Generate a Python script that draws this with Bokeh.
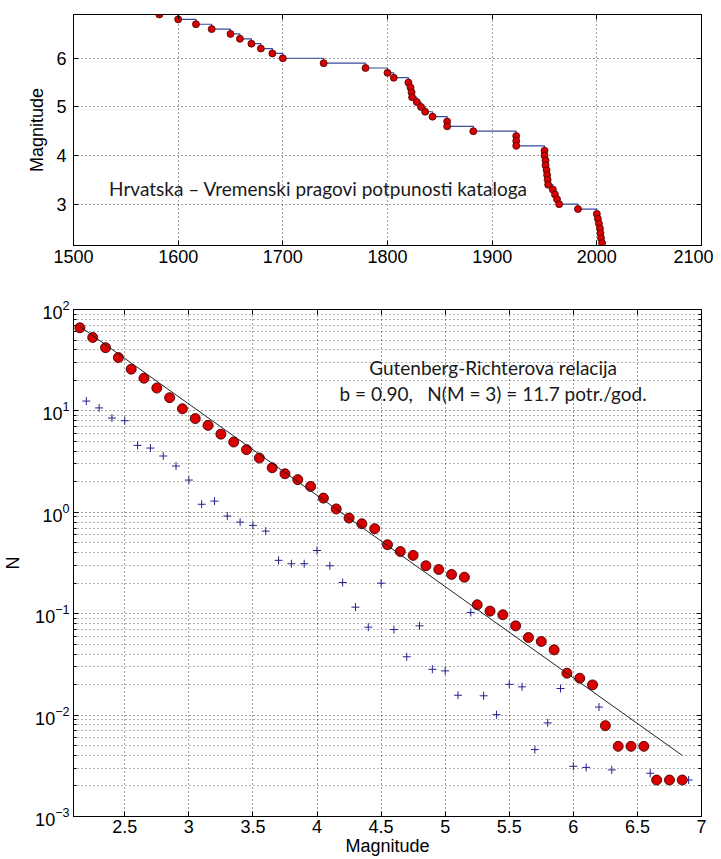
from bokeh.plotting import figure
from bokeh.layouts import column
from bokeh.models import (FixedTicker, LinearAxis, LogAxis, Label, Range1d,
                          CustomJSTickFormatter)
from bokeh.embed import file_html
from bokeh.resources import INLINE

# ---------------- data: completeness thresholds (top) ----------------
comp_years = [1582, 1600, 1617, 1632, 1650, 1659, 1670, 1679, 1690, 1700,
              1739, 1779, 1800, 1806, 1820, 1822, 1823, 1823.5, 1828, 1832,
              1836, 1843, 1857, 1857, 1882, 1923, 1923, 1923, 1950, 1950,
              1951, 1951, 1952, 1952.5, 1953, 1953.5, 1958, 1960, 1962, 1964,
              1982, 2000, 2001, 2002, 2003, 2003.5, 2004, 2005]
comp_mags = [6.9, 6.8, 6.7, 6.6, 6.5, 6.4, 6.3, 6.2, 6.1, 6.0,
             5.9, 5.8, 5.7, 5.6, 5.5, 5.4, 5.3, 5.2, 5.1, 5.0,
             4.9, 4.8, 4.7, 4.6, 4.5, 4.4, 4.3, 4.2, 4.1, 4.0,
             3.9, 3.8, 3.7, 3.6, 3.5, 3.4, 3.3, 3.2, 3.1, 3.0,
             2.9, 2.8, 2.7, 2.6, 2.5, 2.4, 2.3, 2.2]

# ---------------- data: Gutenberg-Richter (bottom) ----------------
cum_mag = [2.15, 2.25, 2.35, 2.45, 2.55, 2.65, 2.75, 2.85, 2.95, 3.05,
           3.15, 3.25, 3.35, 3.45, 3.55, 3.65, 3.75, 3.85, 3.95, 4.05,
           4.15, 4.25, 4.35, 4.45, 4.55, 4.65, 4.75, 4.85, 4.95, 5.05,
           5.15, 5.25, 5.35, 5.45, 5.55, 5.65, 5.75, 5.85, 5.95, 6.05,
           6.15, 6.25, 6.35, 6.45, 6.55, 6.65, 6.75, 6.85]
cum_rate = [66, 53, 42, 33.6, 25.8, 21, 16.8, 13.5, 10.5, 8.4,
            7.2, 5.9, 4.93, 4.15, 3.43, 2.75, 2.40, 2.10, 1.80, 1.38,
            1.08, 0.877, 0.771, 0.689, 0.479, 0.41, 0.376, 0.297, 0.273, 0.244,
            0.229, 0.1225, 0.106, 0.0976, 0.0759, 0.0582, 0.0532, 0.044, 0.0259, 0.0231,
            0.01985, 0.00787, 0.00492, 0.00492, 0.00492, 0.00229, 0.00229, 0.00229]

inc_mag = [2.2, 2.3, 2.4, 2.5, 2.6, 2.7, 2.8, 2.9, 3.0, 3.1,
           3.2, 3.3, 3.4, 3.5, 3.6, 3.7, 3.8, 3.9, 4.0, 4.1,
           4.2, 4.3, 4.4, 4.5, 4.6, 4.7, 4.8, 4.9, 5.0, 5.1,
           5.2, 5.3, 5.4, 5.5, 5.6, 5.7, 5.8, 5.9, 6.0, 6.1,
           6.2, 6.3, 6.6, 6.9]
inc_rate = [12.5, 10.7, 8.5, 8.0, 4.57, 4.3, 3.59, 2.86, 2.08, 1.2,
            1.29, 0.918, 0.80, 0.743, 0.652, 0.336, 0.311, 0.311, 0.42, 0.297,
            0.203, 0.116, 0.0736, 0.2, 0.0698, 0.0376, 0.0759, 0.0283, 0.0273, 0.0157,
            0.103, 0.0155, 0.0101, 0.0201, 0.019, 0.00457, 0.00838, 0.0183, 0.00313, 0.00305,
            0.012, 0.00288, 0.00267, 0.00229]

fit_mag = [2.15, 6.85]
fit_rate = [68.0, 0.0040]

top_xticks = [1500, 1600, 1700, 1800, 1900, 2000, 2100]
top_yticks = [3, 4, 5, 6]
bot_xticks = [2.5, 3, 3.5, 4, 4.5, 5, 5.5, 6, 6.5, 7]
bot_yticks = [1e-3, 1e-2, 1e-1, 1e0, 1e1, 1e2]
bot_yminor = [k * 10.0 ** e for e in range(-3, 2) for k in range(2, 10)]

title_top = "Hrvatska \u2013 Vremenski pragovi potpunosti kataloga"
gr_line1 = "Gutenberg-Richterova relacija"
gr_line2 = "b = 0.90, \u00a0\u00a0N(M = 3) = 11.7 potr./god."

TICK_FONT = "Liberation Sans"
NOTE_FONT = "Lato"
GRID_COL = "#000000"
RED_FILL = "#d80000"
RED_EDGE = "#4a0000"
BLUE = "#23238c"
STEP_BLUE = "#3a4a9c"


def style_axis(ax, standoff=4):
    ax.major_label_text_font = TICK_FONT
    ax.major_label_text_font_size = "18px"
    ax.major_label_text_color = "black"
    ax.axis_label_text_font = TICK_FONT
    ax.axis_label_text_font_size = "18px"
    ax.axis_label_text_font_style = "normal"
    ax.axis_label_text_color = "black"
    ax.major_tick_in = 5
    ax.major_tick_out = 0
    ax.minor_tick_in = 0
    ax.minor_tick_out = 0
    ax.major_tick_line_color = "black"
    ax.axis_line_color = "black"
    ax.major_label_standoff = standoff


def blank():
    return CustomJSTickFormatter(code="return ''")


def style_grid(g):
    g.grid_line_color = GRID_COL
    g.grid_line_dash = "1 3"
    g.grid_line_width = 1
    g.grid_line_alpha = 0.75


# ---------------- top figure ----------------
p1 = figure(width=713, height=292, output_backend="svg", toolbar_location=None,
            x_range=Range1d(1500, 2100), y_range=Range1d(2.15, 6.9),
            min_border_left=72, min_border_right=12, min_border_top=14,
            min_border_bottom=47)
p1.outline_line_color = "black"
p1.background_fill_color = "white"
p1.border_fill_color = "white"

tx = FixedTicker(ticks=top_xticks)
ty = FixedTicker(ticks=top_yticks)
p1.xaxis.ticker = tx
p1.yaxis.ticker = ty
p1.xgrid.ticker = tx
p1.ygrid.ticker = ty
p1.yaxis.axis_label = "Magnitude"
for ax in p1.xaxis:
    style_axis(ax, 4)
for ax in p1.yaxis:
    style_axis(ax, 7)
    ax.axis_label_standoff = 6
style_grid(p1.xgrid[0])
style_grid(p1.ygrid[0])

r_ax = LinearAxis(ticker=ty, formatter=blank())
style_axis(r_ax, 0)
p1.add_layout(r_ax, "right")
t_ax = LinearAxis(ticker=tx, formatter=blank())
style_axis(t_ax, 0)
p1.add_layout(t_ax, "above")

p1.step(comp_years, comp_mags, mode="after", line_color=STEP_BLUE, line_width=1.2)
p1.scatter(comp_years, comp_mags, marker="circle", size=7,
           fill_color=RED_FILL, line_color=RED_EDGE, line_width=0.8)

p1.add_layout(Label(x=1534, y=3.32, text=title_top, text_font=NOTE_FONT,
                    text_font_size="19px", text_color="#1a1a1a",
                    text_baseline="middle", text_align="left"))

# ---------------- bottom figure ----------------
p2 = figure(width=713, height=567, output_backend="svg", toolbar_location=None,
            y_axis_type="log",
            x_range=Range1d(2.1, 7.0), y_range=Range1d(1e-3, 1e2),
            min_border_left=72, min_border_right=12, min_border_top=17,
            min_border_bottom=43)
p2.outline_line_color = "black"
p2.background_fill_color = "white"
p2.border_fill_color = "white"

bx = FixedTicker(ticks=bot_xticks)
by = FixedTicker(ticks=bot_yticks, minor_ticks=bot_yminor)
p2.xaxis.ticker = bx
p2.yaxis.ticker = by
p2.xgrid.ticker = bx
p2.ygrid.ticker = by
p2.xaxis.axis_label = "Magnitude"
p2.yaxis.axis_label = "N"
for ax in p2.xaxis:
    style_axis(ax, 3)
    ax.axis_label_standoff = 0
for ax in p2.yaxis:
    style_axis(ax, 4)
    ax.minor_tick_in = 3
    ax.minor_tick_line_color = "black"
    ax.axis_label_standoff = 9
style_grid(p2.xgrid[0])
style_grid(p2.ygrid[0])
p2.ygrid.minor_grid_line_color = GRID_COL
p2.ygrid.minor_grid_line_dash = "1 3"
p2.ygrid.minor_grid_line_width = 1
p2.ygrid.minor_grid_line_alpha = 0.6

r2 = LogAxis(ticker=by, formatter=blank())
style_axis(r2, 0)
r2.minor_tick_in = 3
r2.minor_tick_line_color = "black"
p2.add_layout(r2, "right")
t2 = LinearAxis(ticker=bx, formatter=blank())
style_axis(t2, 0)
p2.add_layout(t2, "above")

p2.scatter(inc_mag, inc_rate, marker="cross", size=8, line_color=BLUE, line_width=1)
p2.scatter(cum_mag, cum_rate, marker="circle", size=10,
           fill_color=RED_FILL, line_color=RED_EDGE, line_width=0.9)
p2.line(fit_mag, fit_rate, line_color="#222222", line_width=1)

p2.add_layout(Label(x=5.374, y=26.9, text=gr_line1, text_font=NOTE_FONT,
                    text_font_size="19px", text_color="#1a1a1a",
                    text_baseline="middle", text_align="center"))
p2.add_layout(Label(x=5.374, y=15.0, text=gr_line2, text_font=NOTE_FONT,
                    text_font_size="19px", text_color="#1a1a1a",
                    text_baseline="middle", text_align="center"))

layout = column(p1, p2, spacing=0)
open("out.html", "w").write(file_html(layout, INLINE))
